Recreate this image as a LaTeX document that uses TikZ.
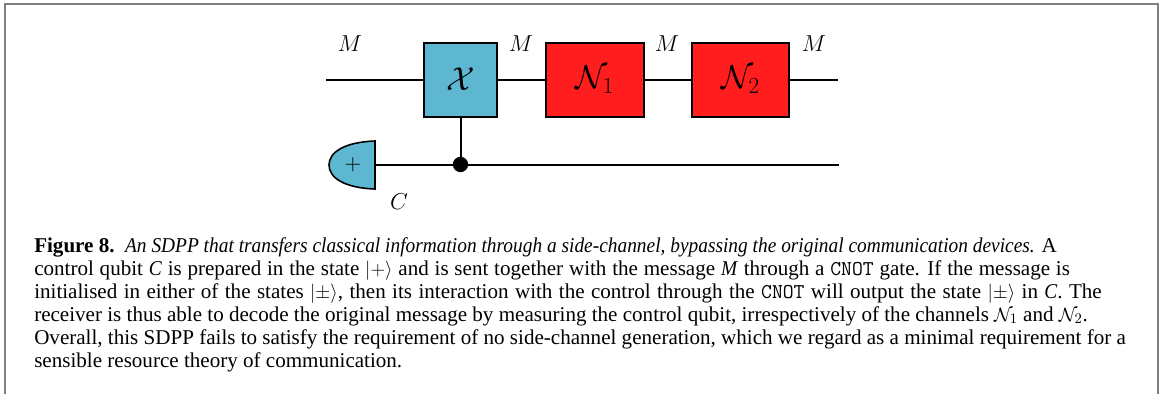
\documentclass[tikz,border=0pt]{standalone}
\usepackage{amsmath,amssymb}
\usepackage{fontspec}
\setmainfont[ItalicFeatures={FakeStretch=0.92}]{Liberation Serif}
\usepackage{xcolor}
\usetikzlibrary{arrows.meta, positioning}
\definecolor{gateblue}{HTML}{5DB7D1}
\definecolor{gatered}{HTML}{FF1D1D}
\definecolor{framegray}{HTML}{808080}

\begin{document}
\begin{tikzpicture}[
    x=0.75pt, y=-0.75pt,
    gate/.style={rectangle, draw, line width=1.5pt, inner sep=0pt, minimum height=55.5pt},
    xgate/.style={gate, fill=gateblue, minimum width=55pt},
    channel/.style={gate, fill=gatered, minimum width=73pt},
    wire/.style={line width=1.5pt},
    lab/.style={inner sep=0pt, font=\fontsize{19}{19}\selectfont},
    sym/.style={font=\fontsize{27}{27}\selectfont},
    frame/.style={draw=framegray, line width=1.8pt}
]
\useasboundingbox (0,0) rectangle (1161,394);

% Frame
\coordinate (ftl) at (5,4);
\coordinate (ftr) at (1158,4);
\coordinate (fbl) at (5,394);
\coordinate (fbr) at (1158,394);
\draw[frame] (fbl) -- (ftl) -- (ftr) -- (fbr);

% Gates
\node[xgate, sym] (xg) at (460.5,79.5) {$\mathcal{X}$};
\node[channel, sym, right=35.25pt of xg] (n1) {$\mathcal{N}_1$};
\node[channel, sym, right=34.75pt of n1] (n2) {$\mathcal{N}_2$};

% Preparation
\coordinate (ptop) at (375,141);
\coordinate (pbot) at (375,189);
\draw[fill=gateblue, line width=1.2pt] (ptop) .. controls (345,142) and (329,152) .. (329,165) .. controls (329,178) and (345,188) .. (pbot) -- cycle;
\node[inner sep=0pt, font=\fontsize{19}{19}\selectfont] (prep) at (353,165) {$+$};
\coordinate (pout) at (375,164.5);

% Control
\node[circle, fill, inner sep=0pt, minimum size=11.5pt] (ctrl) at (460.5,164.5) {};

% Wire ends
\coordinate (min) at (326,79.5);
\coordinate (mout) at (838,79.5);
\coordinate (cout) at (839,164.5);

% Wires
\draw[wire] (min) -- (xg);
\draw[wire] (xg) -- (n1);
\draw[wire] (n1) -- (n2);
\draw[wire] (n2) -- (mout);
\draw[wire] (pout) -- (ctrl);
\draw[wire] (ctrl) -- (cout);
\draw[wire] (xg) -- (ctrl);

% Labels
\node[lab] (m0) at (350,44) {$M$};
\node[lab] (m1) at (521,44) {$M$};
\node[lab] (m2) at (667,44) {$M$};
\node[lab] (m3) at (814,44) {$M$};
\node[lab] (c) at (399,202) {$C$};

% Caption
\node[anchor=north west, inner sep=0pt, align=left, font=\fontsize{15.8}{17.25}\selectfont] (caption) at (34,237) {%
\textbf{Figure 8.}\ \ \textit{An SDPP that transfers classical information through a side-channel, bypassing the original communication devices.} A\\
\spaceskip=4.35pt control qubit \textit{C} is prepared in the state $|{+}\rangle$ and is sent together with the message \textit{M} through a \texttt{CNOT} gate. If the message is\\
\spaceskip=4.8pt initialised in either of the states $|{\pm}\rangle$, then its interaction with the control through the \texttt{CNOT} will output the state $|{\pm}\rangle$ in \textit{C}. The\\
\spaceskip=0pt receiver is thus able to decode the original message by measuring the control qubit, irrespectively of the channels $\mathcal{N}_1$ and $\mathcal{N}_2$.\\
Overall, this SDPP fails to satisfy the requirement of no side-channel generation, which we regard as a minimal requirement for a\\
sensible resource theory of communication.};

\end{tikzpicture}
\end{document}
